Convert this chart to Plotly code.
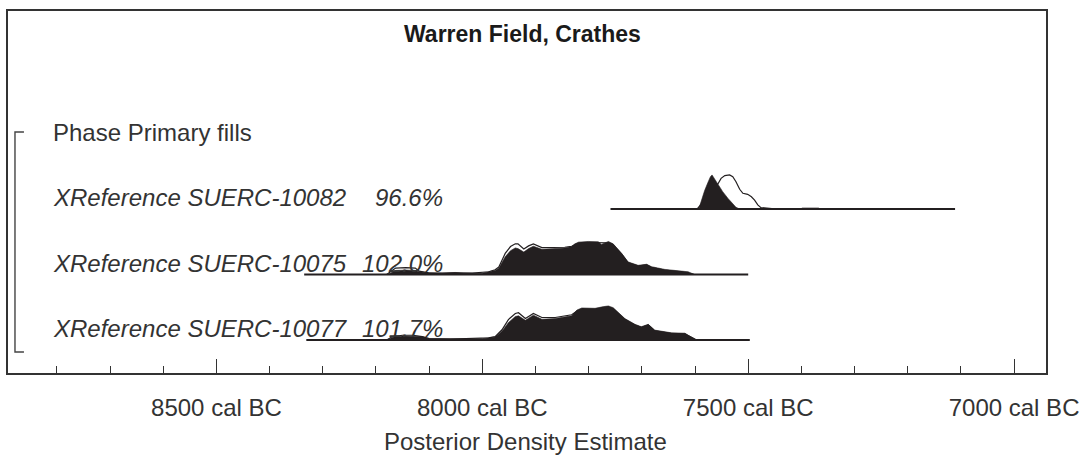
import plotly.graph_objects as go

# --- data -------------------------------------------------------------
title = "Warren Field, Crathes"
phase_label = "Phase Primary fills"
sample_names = ["XReference SUERC-10082", "XReference SUERC-10075", "XReference SUERC-10077"]
agreements = ["96.6%", "102.0%", "101.7%"]

# calculation range of each date (cal BC)
range_start = [7759, 8335, 8331]
range_end = [7111, 7500, 7497]

# SUERC-10082: posterior (filled) and likelihood (outline), relative density
r1_post_years = [7593, 7588, 7582, 7576, 7571, 7568, 7557, 7548, 7538, 7529, 7523, 7516,
                 7402, 7398, 7368, 7364]
r1_post = [0, 0.26, 0.54, 0.77, 0.95, 1.0, 0.735, 0.51, 0.31, 0.15, 0.05, 0,
           0, 0.03, 0.03, 0]
r1_like_years = [7596, 7590, 7585, 7575, 7565, 7557, 7551, 7544, 7535, 7529, 7523, 7516,
                 7510, 7501, 7494, 7488, 7482, 7476, 7465, 7451, 7446]
r1_like = [0, 0.1, 0.2, 0.42, 0.6, 0.735, 0.9, 0.98, 1.0, 0.95, 0.8, 0.58,
           0.46, 0.43, 0.36, 0.26, 0.12, 0.04, 0.03, 0.02, 0]

# SUERC-10075
r2_post_years = [8178, 8169, 8163, 8144, 8126, 8119, 8101, 8075, 8051, 8035, 8019, 8000,
                 7988, 7976, 7969, 7963, 7957, 7947, 7938, 7933, 7922, 7913, 7904, 7888,
                 7863, 7845, 7832, 7826, 7819, 7801, 7782, 7776, 7763, 7754, 7738, 7726,
                 7707, 7691, 7682, 7657, 7626, 7613, 7601]
r2_post = [0, 0.08, 0.12, 0.13, 0.12, 0.08, 0.05, 0.04, 0.06, 0.04, 0.05, 0.04,
           0.08, 0.12, 0.18, 0.35, 0.52, 0.7, 0.78, 0.76, 0.66, 0.76, 0.83, 0.74,
           0.76, 0.78, 0.82, 0.9, 0.95, 0.97, 0.96, 0.88, 0.97, 0.9, 0.62, 0.37,
           0.27, 0.3, 0.23, 0.15, 0.1, 0.08, 0]
r2_like_years = [8180, 8169, 8163, 8144, 8126, 8119, 8101, 8075, 8051, 8019, 7988, 7976,
                 7969, 7963, 7957, 7947, 7938, 7933, 7922, 7913, 7904, 7888, 7863, 7845,
                 7832, 7826, 7819, 7801, 7782, 7763, 7754, 7738, 7726, 7707, 7691, 7682,
                 7657, 7626, 7601]
r2_like = [0, 0.12, 0.19, 0.2, 0.19, 0.1, 0.05, 0.04, 0.05, 0.04, 0.08, 0.14,
           0.22, 0.42, 0.62, 0.82, 0.9, 0.9, 0.75, 0.84, 0.9, 0.79, 0.79, 0.8,
           0.83, 0.87, 0.92, 0.94, 0.93, 0.93, 0.87, 0.6, 0.35, 0.25, 0.28, 0.21,
           0.13, 0.08, 0]

# SUERC-10077
r3_post_years = [8178, 8169, 8150, 8130, 8113, 8100, 8060, 8013, 8000, 7988, 7976, 7963,
                 7951, 7938, 7932, 7919, 7904, 7888, 7863, 7832, 7822, 7813, 7788, 7772,
                 7763, 7754, 7744, 7732, 7713, 7701, 7688, 7676, 7644, 7619, 7613, 7597]
r3_post = [0, 0.08, 0.12, 0.12, 0.1, 0.04, 0.03, 0.04, 0.04, 0.06, 0.09, 0.26,
           0.51, 0.69, 0.71, 0.58, 0.73, 0.61, 0.63, 0.71, 0.88, 0.94, 0.93, 0.98,
           1.0, 0.95, 0.8, 0.63, 0.46, 0.39, 0.46, 0.29, 0.21, 0.2, 0.14, 0]
r3_like_years = [8180, 8169, 8150, 8130, 8113, 8100, 8060, 8013, 7988, 7976, 7963, 7951,
                 7938, 7932, 7919, 7904, 7888, 7863, 7832, 7822, 7813, 7788, 7772, 7763,
                 7754, 7744, 7732, 7713, 7701, 7688, 7676, 7644, 7619, 7597]
r3_like = [0, 0.1, 0.14, 0.14, 0.1, 0.04, 0.03, 0.04, 0.06, 0.1, 0.3, 0.6,
           0.78, 0.8, 0.63, 0.78, 0.66, 0.66, 0.74, 0.85, 0.9, 0.9, 0.95, 0.97,
           0.92, 0.77, 0.6, 0.44, 0.37, 0.44, 0.27, 0.19, 0.18, 0]

major_ticks = [8500, 8000, 7500, 7000]
major_labels = ["8500 cal BC", "8000 cal BC", "7500 cal BC", "7000 cal BC"]
minor_ticks = [8800, 8700, 8600, 8400, 8300, 8200, 8100, 7900, 7800, 7700, 7600,
               7400, 7300, 7200, 7100]
x_title = "Posterior Density Estimate"

# --- layout constants -------------------------------------------------
FONT = "Liberation Sans, Arial, Helvetica, sans-serif"
INK = "#231f20"
TEXT = "#333333"
ROW_Y = [3, 2, 1]            # baseline of each date row (axis units)
PHASE_Y = 4
HEIGHT = 0.52                # axis units for a relative density of 1
LABEL_OFF = 0.175            # label centre above the baseline
Y_RANGE = [1 - 33 / 65.5, 1 + 329 / 65.5]
X_RANGE = [8892, 6940]

fig = go.Figure()


def closed(years, dens, base):
    xs = list(years) + [years[-1], years[0]]
    ys = [base + HEIGHT * d for d in dens] + [base, base]
    return xs, ys


rows = [
    (r1_post_years, r1_post, r1_like_years, r1_like),
    (r2_post_years, r2_post, r2_like_years, r2_like),
    (r3_post_years, r3_post, r3_like_years, r3_like),
]

for i, (py, pd_, ly, ld) in enumerate(rows):
    base = ROW_Y[i]
    lx, lyv = closed(ly, ld, base)
    fig.add_trace(go.Scatter(x=lx, y=lyv, mode="lines", fill="toself",
                             fillcolor="white", line=dict(color=INK, width=1.2),
                             hoverinfo="skip", showlegend=False))
    px_, pyv = closed(py, pd_, base)
    fig.add_trace(go.Scatter(x=px_, y=pyv, mode="lines", fill="toself",
                             fillcolor=INK, line=dict(color=INK, width=0.6),
                             hoverinfo="skip", showlegend=False))
    fig.add_trace(go.Scatter(x=[range_start[i], range_end[i]], y=[base, base],
                             mode="lines", line=dict(color=INK, width=2.2),
                             hoverinfo="skip", showlegend=False))

annotations = [
    dict(text="<b>" + title + "</b>", xref="paper", yref="paper",
         x=0.4952, y=(373 - 34) / 362, xanchor="center", yanchor="middle",
         showarrow=False, font=dict(family=FONT, size=23, color="#1a1a1a")),
    dict(text=x_title, xref="paper", yref="paper",
         x=0.4981, y=(373 - 442) / 362, xanchor="center", yanchor="middle",
         showarrow=False, font=dict(family=FONT, size=24, color=TEXT)),
    dict(text=phase_label, xref="paper", yref="y",
         x=43 / 1041, y=PHASE_Y + LABEL_OFF, xanchor="left", yanchor="middle",
         showarrow=False, font=dict(family=FONT, size=24, color=TEXT)),
]
for i in range(len(sample_names)):
    annotations.append(dict(text="<i>" + sample_names[i] + "</i>", xref="paper", yref="y",
                            x=43 / 1041, y=ROW_Y[i] + LABEL_OFF, xanchor="left",
                            yanchor="middle", showarrow=False,
                            font=dict(family=FONT, size=24, color=TEXT)))
    annotations.append(dict(text="<i>" + agreements[i] + "</i>", xref="paper", yref="y",
                            x=438 / 1041, y=ROW_Y[i] + LABEL_OFF, xanchor="right",
                            yanchor="middle", showarrow=False,
                            font=dict(family=FONT, size=24, color=TEXT)))

# bracket grouping the phase members
bx0, bx1 = 7 / 1041, 16 / 1041
btop, bbot = PHASE_Y + LABEL_OFF, ROW_Y[-1] - 12 / 65.5
shapes = [dict(type="path", xref="paper", yref="y",
               path=f"M {bx1} {btop} L {bx0} {btop} L {bx0} {bbot} L {bx1} {bbot}",
               line=dict(color="#444444", width=1.4))]

fig.update_layout(
    width=1087, height=456,
    margin=dict(l=8, r=38, t=11, b=83),
    paper_bgcolor="white", plot_bgcolor="white",
    annotations=annotations, shapes=shapes,
    xaxis=dict(range=X_RANGE, showgrid=False, zeroline=False,
               showline=True, mirror=True, linecolor="#333333", linewidth=2,
               tickmode="array", tickvals=major_ticks, ticktext=major_labels,
               ticks="inside", ticklen=14, tickwidth=1.3, tickcolor="#333333",
               ticklabelstandoff=12,
               tickfont=dict(family=FONT, size=24, color=TEXT),
               minor=dict(tickmode="array", tickvals=minor_ticks, ticks="inside",
                          ticklen=7, tickwidth=1.3, tickcolor="#333333", showgrid=False)),
    yaxis=dict(range=Y_RANGE, showgrid=False, zeroline=False,
               showline=True, mirror=True, linecolor="#333333", linewidth=2,
               showticklabels=False, ticks=""),
)

fig.write_html("out.html")
